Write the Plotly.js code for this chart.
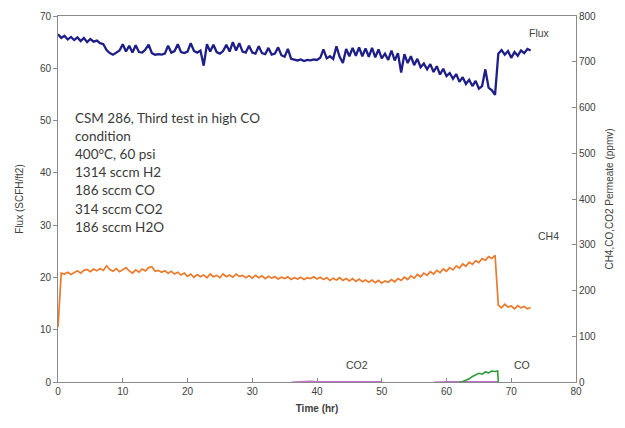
<!DOCTYPE html>
<html>
<head>
<meta charset="utf-8">
<script src="https://cdn.plot.ly/plotly-3.0.1.min.js"></script>
<style>html,body{margin:0;padding:0;background:#fff;}#chart{width:625px;height:428px;}</style>
</head>
<body>
<div id="chart"></div>
<script>
// Time axis for flux and CH4 (hr), every 0.5 hr
const timeHr = [];
for (let i = 0; i <= 146; i++) timeHr.push(i * 0.5);

// Flux (SCFH/ft2), left axis
const flux = [
66.5,65.8,66.2,65.5,66.0,65.4,65.9,65.2,65.8,65.0,65.6,65.1,65.3,64.8,64.6,63.5,62.9,62.6,63.0,63.4,
64.6,63.2,64.3,63.0,64.4,63.1,63.0,63.6,64.5,62.9,62.6,62.7,62.6,62.8,64.3,63.0,63.3,64.6,63.1,62.9,
63.2,64.8,63.3,63.0,63.4,60.5,64.6,63.2,64.5,63.1,62.8,63.3,64.5,63.2,65.0,63.4,64.8,63.2,63.0,64.3,
63.0,62.8,64.2,62.9,62.7,63.9,62.6,62.8,64.0,62.5,62.2,63.7,61.8,61.6,61.5,61.7,61.4,61.6,61.5,61.7,
61.6,62.0,63.6,61.9,62.3,61.8,64.2,62.2,61.0,63.7,62.3,63.9,62.4,64.0,62.3,63.8,62.2,63.9,62.1,63.6,
61.9,62.8,61.6,63.4,61.5,62.9,59.2,62.7,61.0,62.3,60.6,61.8,60.2,60.9,59.8,60.8,59.3,60.4,58.8,59.9,
58.5,59.1,58.0,58.9,57.4,58.3,57.0,57.8,56.6,57.6,56.1,56.6,59.8,56.3,55.8,54.9,62.8,63.5,62.6,63.3,
62.0,63.1,62.4,63.4,62.9,63.7,63.4
];

// CH4 permeate (ppmv), right axis
const ch4 = [
120,238,236,240,235,239,243,238,244,246,241,247,243,248,244,254,246,242,248,241,
246,250,243,238,245,240,247,243,250,252,242,244,240,243,238,242,236,240,234,238,
231,236,229,235,230,234,228,236,230,233,228,236,230,234,229,236,231,233,228,232,
227,233,228,232,226,231,227,230,225,229,226,230,224,228,225,229,224,228,226,230,
225,229,224,228,222,227,223,228,222,226,221,226,220,225,219,223,218,223,217,222,
216,221,218,224,219,226,222,229,224,232,227,235,230,238,233,241,236,244,239,247,
242,250,245,254,249,258,253,262,257,265,261,270,266,274,270,277,168,162,170,164,
166,160,167,162,165,160,163
];

// CO permeate (ppmv), right axis
const coTime = [62,62.5,63,63.5,64,64.5,65,65.5,66,66.5,67,67.5,67.9,68];
const co = [0,1,4,7,12,15,19,17,22,20,24,23,24,0];

// CO2 permeate (ppmv), right axis
const co2Time = [36,37,38,39,40,41,42,43,44,45,46,47,48,49,50,51,58,59,60,61,62,63,64,65,66,67,68];
const co2 = [0,1,1,2,1,1,2,1,2,1,2,1,1,2,1,null,0,1,1,1,1,1,2,1,2,2,1];

// Text
const noteLines = ["CSM 286, Third test in high CO","condition","400°C, 60 psi","1314 sccm H2","186 sccm CO","314 sccm CO2","186 sccm H2O"];
const seriesLabels = [
  {text:"Flux", x:74.4, y:66.7},
  {text:"CH4",  x:75.7, y:27.9},
  {text:"CO2",  x:46.2, y:3.2},
  {text:"CO",   x:71.7, y:3.2}
];

const traces = [
  {x: timeHr, y: flux, type:'scatter', mode:'lines', line:{color:'#1e1e88', width:2.3}, yaxis:'y', hoverinfo:'skip'},
  {x: timeHr, y: ch4, type:'scatter', mode:'lines', line:{color:'#ec7a2c', width:1.7}, yaxis:'y2', hoverinfo:'skip'},
  {x: co2Time, y: co2, type:'scatter', mode:'lines', line:{color:'#b848c0', width:1.1}, opacity:0.8, yaxis:'y2', connectgaps:false, hoverinfo:'skip'},
  {x: coTime, y: co, type:'scatter', mode:'lines', line:{color:'#2e9a3a', width:1.6}, yaxis:'y2', hoverinfo:'skip'}
];

const PT = 16, PB = 382;
const annotations = [];
noteLines.forEach((t, i) => {
  const py = 118 + i * 18.1;
  annotations.push({xref:'paper', yref:'paper', x:(73-58)/518, y:(PB-py)/(PB-PT),
    xanchor:'left', yanchor:'middle', text:t, showarrow:false,
    font:{family:'Lato, "Open Sans", sans-serif', size:13.5, color:'#3a3a3a'}});
});
seriesLabels.forEach(l => {
  annotations.push({xref:'x', yref:'y', x:l.x, y:l.y, text:l.text, showarrow:false,
    xanchor:'center', yanchor:'middle',
    font:{family:'Liberation Sans, Arial, sans-serif', size:10.5, color:'#404040'}});
});

const tickFont = {family:'Liberation Sans, Arial, sans-serif', size:10, color:'#404040'};
const layout = {
  width:625, height:428,
  margin:{l:58, r:49, t:16, b:46},
  paper_bgcolor:'#ffffff', plot_bgcolor:'#ffffff',
  showlegend:false,
  xaxis:{range:[0,80], dtick:10, tick0:0, showgrid:false, zeroline:false,
    showline:true, linecolor:'#8a8a8a', linewidth:1, mirror:true,
    ticks:'inside', ticklen:4, tickcolor:'#8a8a8a', tickfont:tickFont,
    title:{text:'<b>Time (hr)</b>', font:{family:'Liberation Sans, Arial, sans-serif', size:10, color:'#404040'}, standoff:8}},
  yaxis:{range:[0,70], dtick:10, showgrid:false, zeroline:false,
    showline:true, linecolor:'#8a8a8a', linewidth:1,
    ticks:'outside', ticklen:4, tickcolor:'#8a8a8a', tickfont:tickFont,
    title:{text:'Flux (SCFH/ft2)', font:{family:'Liberation Sans, Arial, sans-serif', size:10, color:'#404040'}, standoff:14}},
  yaxis2:{range:[0,800], dtick:100, overlaying:'y', side:'right', showgrid:false, zeroline:false,
    showline:true, linecolor:'#8a8a8a', linewidth:1,
    ticks:'inside', ticklen:4, tickcolor:'#8a8a8a', tickfont:tickFont,
    title:{text:'CH4,CO,CO2 Permeate (ppmv)', font:{family:'Liberation Sans, Arial, sans-serif', size:10, color:'#404040'}, standoff:10}},
  annotations: annotations
};

Plotly.newPlot('chart', traces, layout, {staticPlot:true, displayModeBar:false});
</script>
</body>
</html>
